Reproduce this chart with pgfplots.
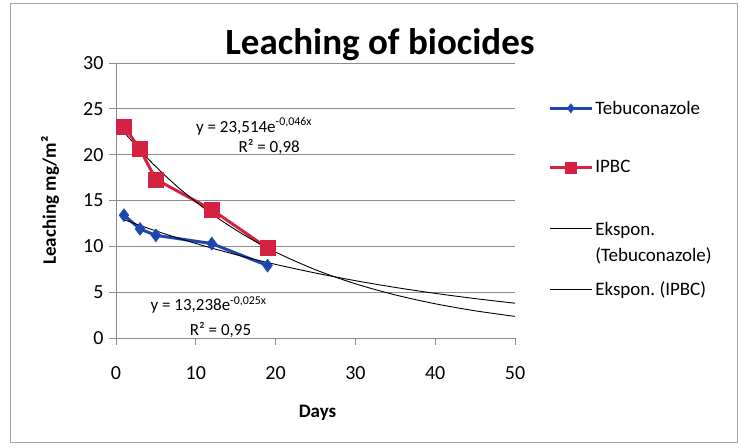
\documentclass[border=0pt]{standalone}
\usepackage{pgfplots}
\pgfplotsset{compat=1.18}
\usepackage{fontspec}
\setmainfont{Carlito}
\definecolor{tebu}{RGB}{30,70,178}
\definecolor{ipbc}{RGB}{214,34,66}
\definecolor{gridc}{RGB}{140,140,140}
\begin{document}
\begin{tikzpicture}
\path[use as bounding box] (-116bp,-110bp) rectangle (624bp,338bp);
\draw[gray!70, line width=0.8bp] (-106bp,-104bp) rectangle (621bp,335bp);
\begin{axis}[
  at={(0,0)}, anchor=south west,
  scale only axis, width=399bp, height=275bp,
  xmin=0, xmax=50, ymin=0, ymax=30,
  xtick={0,10,...,50}, ytick={0,5,...,30},
  axis x line=bottom, axis y line=left,
  axis line style={-, gridc, line width=0.8bp},
  tick style={gridc, line width=0.8bp},
  tick align=outside, major tick length=7bp,
  ymajorgrids, grid style={gridc, line width=0.8bp},
  font=\fontsize{20bp}{24bp}\selectfont,
  /pgf/number format/assume math mode=true,
  xticklabel style={anchor=center, yshift=-28bp},
  yticklabel style={anchor=east, xshift=-2bp},
  xlabel={\bfseries Days},
  ylabel={\bfseries Leaching mg/m²},
  xlabel style={font=\fontsize{19bp}{22bp}\selectfont, at={(axis description cs:0.505,-0.273)}, anchor=center},
  ylabel style={font=\fontsize{19bp}{22bp}\selectfont, at={(axis description cs:-0.165,0.5)}, anchor=center, rotate=0},
  legend style={draw=none, fill=none, at={(axis description cs:1.083,0.87)}, anchor=north west,
    font=\fontsize{19bp}{23bp}\selectfont, row sep=41bp, inner sep=0pt},
  legend cell align=left,
  legend image code/.code={\draw[mark repeat=2,mark phase=2,#1,every mark/.append style={scale=0.7}] plot coordinates {(0bp,0bp) (21bp,0bp) (42bp,0bp)};},
  clip=false,
]
\addplot[tebu, line width=3bp, mark=diamond*, mark size=6.5bp, mark options={fill=tebu, line width=0.5bp}]
  coordinates {(1,13.4) (3,11.9) (5,11.2) (12,10.3) (19,7.9)};
\addlegendentry{Tebuconazole}
\addplot[ipbc, line width=3bp, mark=square*, mark size=7.5bp, mark options={fill=ipbc, line width=0.5bp}]
  coordinates {(1,23.1) (3,20.6) (5,17.3) (12,14.0) (19,9.8)};
\addlegendentry{IPBC}
\addplot[black, line width=0.9bp, smooth, no marks]
  coordinates {(1,12.911) (3,12.281) (5,11.683) (8,10.838) (12,9.807) (16,8.874) (20,8.029) (25,7.086) (30,6.253) (35,5.518) (40,4.870) (45,4.298) (50,3.793)};
\addlegendentry{\begin{tabular}[t]{@{}l@{}}Ekspon.\\[3bp](Tebuconazole)\rule[-12bp]{0pt}{1bp}\end{tabular}}
\addplot[black, line width=0.9bp, smooth, no marks]
  coordinates {(1,22.457) (3,20.483) (5,18.683) (8,16.274) (12,13.539) (16,11.264) (20,9.371) (25,7.445) (30,5.916) (35,4.700) (40,3.734) (45,2.967) (50,2.357)};
\addlegendentry{Ekspon.\ (IPBC)}
\node[font=\fontsize{17bp}{20bp}\selectfont] at (axis cs:17.3,23.1) {y = 23,514e\textsuperscript{-0,046x}};
\node[font=\fontsize{17bp}{20bp}\selectfont] at (axis cs:19.2,20.8) {R² = 0,98};
\node[font=\fontsize{17bp}{20bp}\selectfont] at (axis cs:11.6,3.6) {y = 13,238e\textsuperscript{-0,025x}};
\node[font=\fontsize{17bp}{20bp}\selectfont] at (axis cs:13.1,0.9) {R² = 0,95};
\end{axis}
\node[font=\bfseries\fontsize{37bp}{41bp}\selectfont] at (264bp,293bp) {Leaching of biocides};
\end{tikzpicture}
\end{document}
